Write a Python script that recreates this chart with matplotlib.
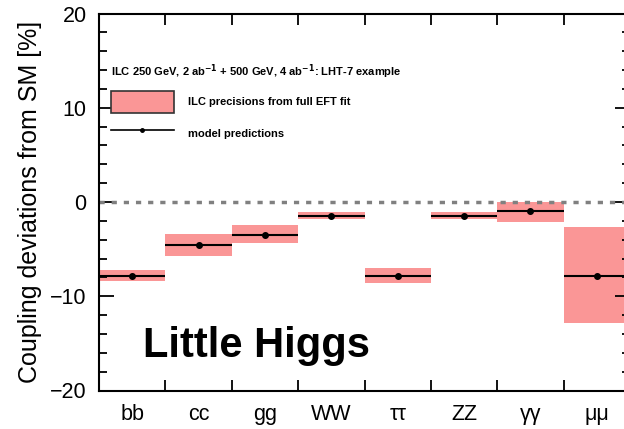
import matplotlib
matplotlib.use("Agg")
import matplotlib.pyplot as plt
from matplotlib.patches import Patch
from matplotlib.lines import Line2D
import numpy as np

categories = ["bb", "cc", "gg", "WW", "ττ", "ZZ", "γγ", "μμ"]
predictions = [-7.9, -4.6, -3.5, -1.5, -7.8, -1.5, -1.0, -7.8]
band_low = [-8.4, -5.7, -4.4, -1.8, -8.6, -1.8, -2.1, -12.8]
band_high = [-7.2, -3.4, -2.4, -1.1, -7.0, -1.1, 0.0, -2.7]
yticks = [-20, -10, 0, 10, 20]

plt.rcParams['font.family'] = ['Liberation Sans', 'DejaVu Sans']

fig = plt.figure(figsize=(6.24, 4.29), dpi=100)
ax = fig.add_axes([99/624, 1-390.5/429, 531/624, (390.5-13.5)/429])

n = len(categories)
x = np.arange(n) + 0.5
lo = np.array(band_low)
hi = np.array(band_high)
fill = '#FA9696'
ax.bar(x, hi - lo, bottom=lo, width=1.0, color=fill, edgecolor='none', zorder=1)
ax.hlines(predictions, x - 0.5, x + 0.5, color='black', lw=1.5, zorder=3)
ax.plot(x, predictions, 'o', color='black', ms=4, zorder=4)

ax.axhline(0, color='#808080', lw=2.5, ls=(0, (1.5, 2.0)), zorder=2)

ax.set_xlim(0, n)
ax.set_ylim(-20, 20)

ax.set_yticks(yticks)
ax.set_yticks(np.arange(-20, 21, 2), minor=True)
ax.tick_params(axis='y', which='major', direction='in', length=11, width=1.3,
               labelsize=15.5, left=True, right=True, pad=9)
ax.tick_params(axis='y', which='minor', direction='in', length=5.5, width=1.3,
               left=True, right=True)

ax.set_xticks(x)
ax.set_xticklabels(categories)
ax.set_xticks(np.arange(1, n), minor=True)
ax.tick_params(axis='x', which='major', length=0, labelsize=15.5, pad=10)
ax.tick_params(axis='x', which='minor', direction='in', length=8, width=1.3,
               top=True, bottom=True)

for s in ax.spines.values():
    s.set_linewidth(1.5)

ax.set_ylabel("Coupling deviations from SM [%]", fontsize=18, labelpad=6)

ax.text(143/624, 1-356.7/429, "Little Higgs", transform=fig.transFigure,
        fontsize=30, fontweight='bold', ha='left', va='baseline')

handles = [Patch(facecolor=fill, edgecolor='#333333', lw=1.2),
           Line2D([0], [0], color='black', lw=1.2, marker='o', ms=2.5)]
leg = ax.legend(handles, ["ILC precisions from full EFT fit", "model predictions"],
                title="ILC 250 GeV, 2 ab$^{\\mathbf{-1}}$ + 500 GeV, 4 ab$^{\\mathbf{-1}}$: LHT-7 example",
                loc='upper left', bbox_to_anchor=(105/624, 1-57/429),
                bbox_transform=fig.transFigure, frameon=False,
                prop={'size': 8, 'weight': 'bold'},
                title_fontproperties={'size': 8, 'weight': 'bold'},
                handlelength=5.7, handleheight=2.6, labelspacing=0.9,
                handletextpad=1.3, alignment='left', borderpad=0)

fig.savefig("out.png", dpi=100)
